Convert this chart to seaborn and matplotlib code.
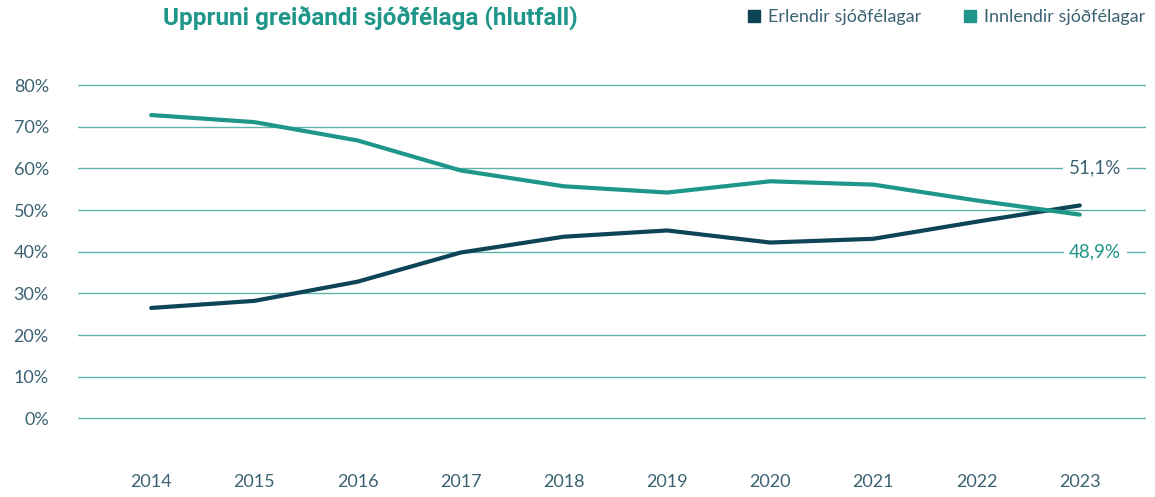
import pandas as pd
import numpy as np
import matplotlib.pyplot as plt
import seaborn as sns

# Gögn lesin af myndinni (%)
years = [2014, 2015, 2016, 2017, 2018, 2019, 2020, 2021, 2022, 2023]
erlendir = [26.5, 28.2, 32.8, 39.8, 43.6, 45.1, 42.2, 43.1, 47.2, 51.1]
innlendir = [72.8, 71.1, 66.7, 59.5, 55.7, 54.2, 56.9, 56.1, 52.3, 48.9]
series_names = ["Erlendir sjóðfélagar", "Innlendir sjóðfélagar"]
y_ticks = [0, 10, 20, 30, 40, 50, 60, 70, 80]

dark = "#0d4557"
teal = "#1f968a"
grid_col = "#5db3aa"
text_col = "#3b6272"

sns.set_style("white")
plt.rcParams["font.family"] = ["Lato", "DejaVu Sans"]

df = pd.DataFrame({
    "Ár": years * 2,
    "Hlutfall": erlendir + innlendir,
    "Hópur": [series_names[0]] * len(years) + [series_names[1]] * len(years),
})

fig = plt.figure(figsize=(11.55, 4.97), dpi=100)
ax = fig.add_axes([0.0675, 0.0744, 0.9245, 0.757])

for t in y_ticks:
    ax.axhline(t, color=grid_col, lw=1.0, zorder=0)

sns.lineplot(data=df, x="Ár", y="Hlutfall", hue="Hópur",
             palette={series_names[0]: dark, series_names[1]: teal},
             lw=3, ax=ax, legend=False, zorder=3)

ax.set_xlim(2013.29, 2023.64)
ax.set_ylim(-10, 80.3)
ax.set_xticks(years)
ax.set_xticklabels([str(y) for y in years])
ax.set_yticks(y_ticks)
ax.set_yticklabels([f"{t}%" for t in y_ticks])
ax.tick_params(axis="both", length=0, labelsize=13, colors=text_col)
ax.tick_params(axis="y", pad=21)
ax.tick_params(axis="x", pad=10)
ax.set_xlabel("")
ax.set_ylabel("")
for s in ax.spines.values():
    s.set_visible(False)

# Lokagildi
ax.text(2023.15, 60, f"{erlendir[-1]:.1f}%".replace(".", ","), color=text_col,
        fontsize=13.5, ha="center", va="center",
        bbox=dict(facecolor="white", edgecolor="none", pad=4), zorder=4)
ax.text(2023.15, 40, f"{innlendir[-1]:.1f}%".replace(".", ","), color=teal,
        fontsize=13.5, ha="center", va="center",
        bbox=dict(facecolor="white", edgecolor="none", pad=4), zorder=4)

fig.text(0.141, 0.965, "Uppruni greiðandi sjóðfélaga (hlutfall)", color=teal,
         fontsize=17.5, fontweight="bold", ha="left", va="center",
         family=["Roboto", "DejaVu Sans"])

handles = [plt.Line2D([], [], marker="s", ls="", color=c, markersize=8)
           for c in [dark, teal]]
leg = fig.legend(handles, series_names, loc="center right",
                 bbox_to_anchor=(1.006, 0.965), ncol=2, frameon=False,
                 fontsize=13, handletextpad=0.3, columnspacing=2.2,
                 handlelength=1.0)
for t in leg.get_texts():
    t.set_color(text_col)

plt.savefig("out.png", dpi=100)
